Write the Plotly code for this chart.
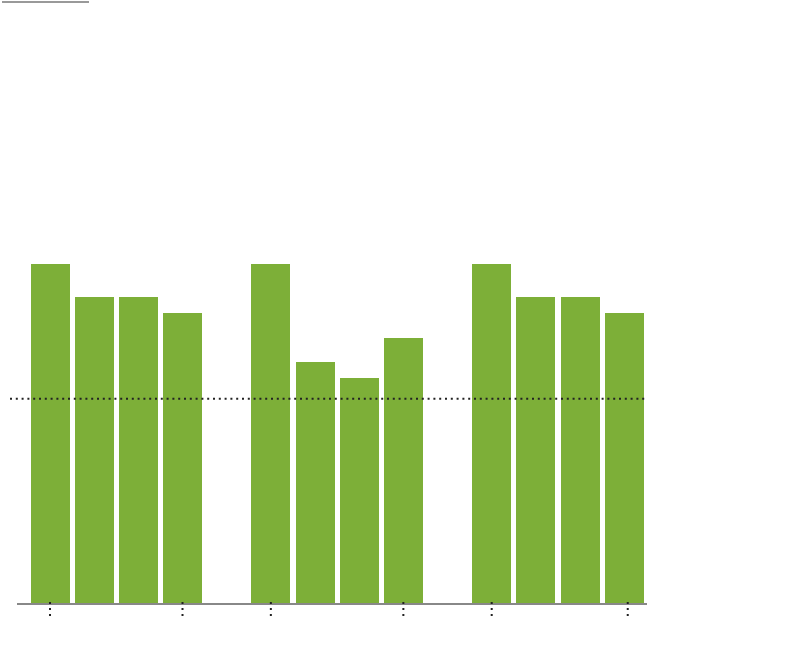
import plotly.graph_objects as go

# --- data ---
bar_positions = [0, 1, 2, 3, 5, 6, 7, 8, 10, 11, 12, 13]
bar_values = [83, 75, 75, 71, 83, 59, 55, 65, 83, 75, 75, 71]
reference_value = 50
tick_positions = [0, 3, 5, 8, 10, 13.08]

BAR_COLOR = "#7DAF38"
W, H = 808, 670
BASE = 603
LEFT = 17
RIGHT = 647
L, R, T, B = LEFT, W - RIGHT, 0, H - BASE
plot_w = RIGHT - LEFT
plot_h = BASE - T
PX_PER_BAR = 44.17
PX_PER_UNIT = 4.084
X0 = 50                    # pixel centre of bar 0


def px_x(p):
    return (p - LEFT) / plot_w


def px_y(p):
    return (BASE - p) / plot_h


fig = go.Figure()
fig.add_trace(go.Bar(
    x=bar_positions, y=bar_values, width=0.883,
    marker=dict(color=BAR_COLOR, line=dict(width=0)),
    hoverinfo="skip",
))

shapes = []
shapes.append(dict(type="line", xref="paper", yref="y",
                   x0=px_x(10), x1=px_x(647),
                   y0=reference_value, y1=reference_value,
                   line=dict(color="#222222", width=2, dash="2px,3.8px"), layer="above"))
for tp in tick_positions:
    shapes.append(dict(type="line", xref="x", yref="paper",
                       x0=tp, x1=tp, y0=px_y(602), y1=px_y(616),
                       line=dict(color="#222222", width=2, dash="2px,4px"), layer="above"))
shapes.append(dict(type="line", xref="paper", yref="paper",
                   x0=px_x(2), x1=px_x(89), y0=px_y(2), y1=px_y(2),
                   line=dict(color="#999999", width=2)))

fig.update_layout(
    width=W, height=H,
    margin=dict(l=L, r=R, t=T, b=B, pad=0),
    paper_bgcolor="white", plot_bgcolor="white",
    showlegend=False,
    bargap=0,
    xaxis=dict(range=[(LEFT - X0) / PX_PER_BAR, (RIGHT - X0) / PX_PER_BAR], showgrid=False,
               zeroline=False, showticklabels=False, ticks="", showline=True,
               linecolor="#888888", linewidth=2, fixedrange=True),
    yaxis=dict(range=[0, plot_h / PX_PER_UNIT], showgrid=False, zeroline=False,
               showticklabels=False, ticks="", showline=False, fixedrange=True),
    shapes=shapes,
)

fig.write_html("out.html", config={"displayModeBar": False},
               post_script="document.body.style.margin='0';document.body.style.overflow='hidden';")
